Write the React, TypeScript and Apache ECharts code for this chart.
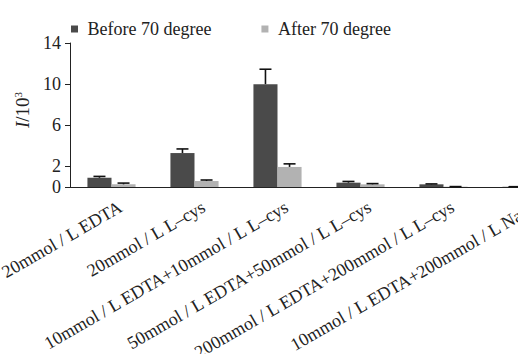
import React, { useEffect, useRef } from "react";
import * as echarts from "echarts";

const categories = [
  "20mmol / L EDTA",
  "20mmol / L L–cys",
  "10mmol / L EDTA+10mmol / L L–cys",
  "50mmol / L EDTA+50mmol / L L–cys",
  "200mmol / L EDTA+200mmol / L L–cys",
  "10mmol / L EDTA+200mmol / L NaCl",
];
const seriesNames = ["Before 70 degree", "After 70 degree"];
const beforeValues = [0.9, 3.3, 10.0, 0.42, 0.26, 0.02];
const beforeErrors = [0.13, 0.4, 1.45, 0.12, 0.04, 0.01];
const afterValues = [0.26, 0.58, 1.95, 0.26, 0.03, 0.01];
const afterErrors = [0.12, 0.1, 0.3, 0.07, 0.01, 0.01];
const yTickValues = [0, 2, 6, 10, 14];

const FONT = "Liberation Serif";
const DARK = "#4a4a4a";
const LIGHT = "#b2b2b2";

export default function App() {
  const ref = useRef<HTMLDivElement>(null);
  useEffect(() => {
    if (!ref.current) return;
    const chart = echarts.init(ref.current, null, { renderer: "svg" });
    const errData: number[][] = [];
    beforeValues.forEach((v, i) => errData.push([i, v, beforeErrors[i], 0]));
    afterValues.forEach((v, i) => errData.push([i, v, afterErrors[i], 1]));
    const half = 0.145;
    chart.setOption({
      animation: false,
      backgroundColor: "#fff",
      textStyle: { fontFamily: FONT },
      legend: {
        left: 66,
        top: 15,
        data: seriesNames,
        icon: "path://M0,0h10v10h-10z",
        itemWidth: 16,
        itemHeight: 7,
        itemGap: 50,
        textStyle: { fontFamily: FONT, fontSize: 18, color: "#222" },
      },
      grid: { left: 70, top: 43, width: 498, height: 144, containLabel: false, outerBoundsMode: "none" },
      xAxis: {
        type: "category",
        data: categories,
        axisLine: { lineStyle: { color: "#222", width: 1 } },
        axisTick: { length: 7, lineStyle: { color: "#222" } },
        axisLabel: {
          rotate: 30,
          interval: 0,
          margin: 3,
          verticalAlign: "top",
          lineHeight: 36,
          fontFamily: FONT,
          fontSize: 18,
          color: "#222",
        },
      },
      yAxis: {
        type: "value",
        min: 0,
        max: 14,
        name: "{i|I}{n|/10}{s|3}",
        nameLocation: "middle",
        nameRotate: 90,
        nameGap: 34,
        nameTextStyle: {
          padding: [0, 0, 0, 10],
          rich: {
            i: { fontFamily: FONT, fontSize: 19, fontStyle: "italic", color: "#222" },
            n: { fontFamily: FONT, fontSize: 19, color: "#222" },
            s: { fontFamily: FONT, fontSize: 11, color: "#222", verticalAlign: "top", padding: [0, 0, 9, 0] },
          },
        },
        axisLine: { show: true, lineStyle: { color: "#222", width: 1 } },
        axisTick: { show: true, length: 5, customValues: yTickValues, lineStyle: { color: "#222" } },
        axisLabel: {
          customValues: yTickValues,
          margin: 9,
          fontFamily: FONT,
          fontSize: 18,
          color: "#222",
        },
        splitLine: { show: false },
      },
      series: [
        {
          name: seriesNames[0],
          type: "bar",
          data: beforeValues,
          barWidth: "29%",
          barGap: "0%",
          itemStyle: { color: DARK },
        },
        {
          name: seriesNames[1],
          type: "bar",
          data: afterValues,
          barWidth: "29%",
          barGap: "0%",
          itemStyle: { color: LIGHT },
        },
        {
          type: "custom",
          data: errData,
          z: 5,
          renderItem: (params: any, api: any) => {
            const idx = api.value(0);
            const v = api.value(1);
            const e = api.value(2);
            const s = api.value(3);
            const bw = api.size([1, 0])[0];
            const off = (s === 0 ? -1 : 1) * bw * half;
            const p0 = api.coord([idx, v]);
            const p1 = api.coord([idx, v + e]);
            const x = p0[0] + off;
            const cap = 6;
            const style = { stroke: "#111", lineWidth: 1.6 };
            return {
              type: "group",
              children: [
                { type: "line", shape: { x1: x, y1: p0[1], x2: x, y2: p1[1] }, style },
                { type: "line", shape: { x1: x - cap, y1: p1[1], x2: x + cap, y2: p1[1] }, style },
              ],
            };
          },
        },
      ],
    });
    return () => chart.dispose();
  }, []);
  return (
    <div style={{ position: "fixed", left: 0, top: 0, width: 518, height: 354, overflow: "hidden", background: "#fff" }}>
      <div ref={ref} style={{ position: "absolute", left: 0, top: 0, width: 600, height: 354 }} />
    </div>
  );
}
